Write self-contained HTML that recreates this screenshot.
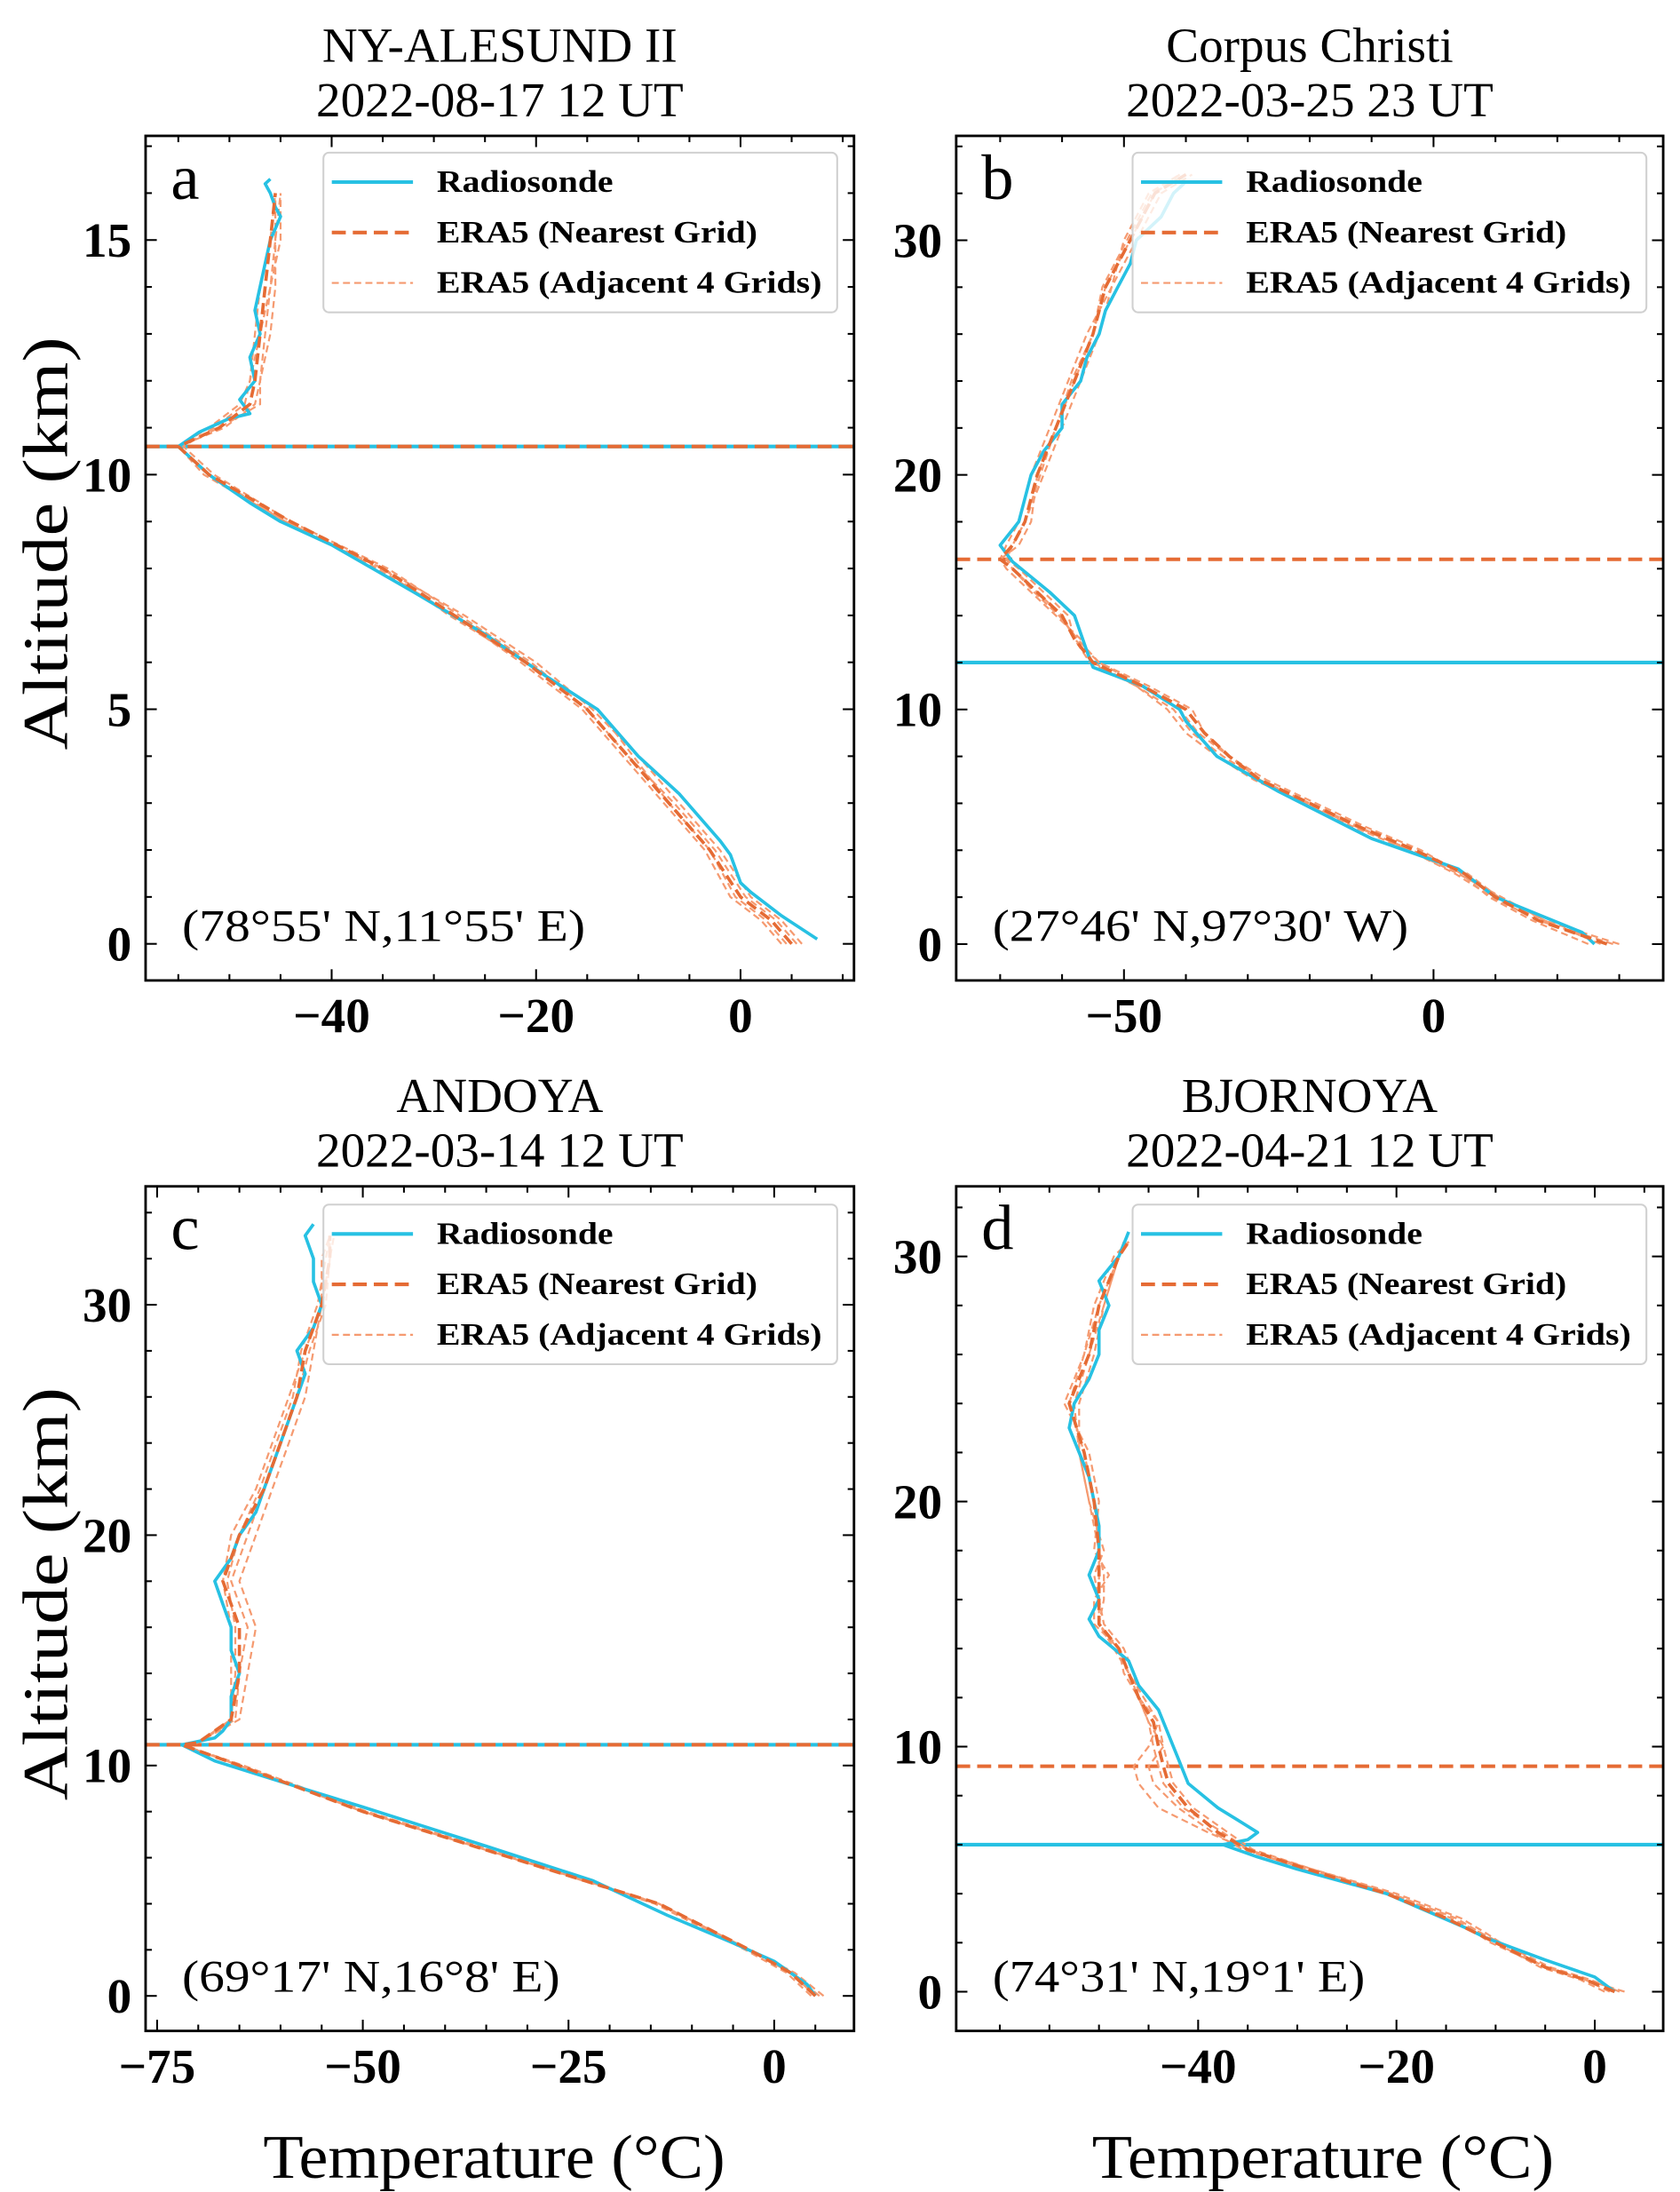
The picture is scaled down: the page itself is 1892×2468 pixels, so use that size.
<!DOCTYPE html>
<html><head><meta charset="utf-8"><style>
html,body{margin:0;padding:0;background:#fff;}
svg{display:block;}
text{font-family:"Liberation Serif",serif;fill:#000;}
</style></head><body>
<svg id="fig" width="1892" height="2468" viewBox="0 0 1200 1565" preserveAspectRatio="none" xmlns="http://www.w3.org/2000/svg"></svg>
<script>
// ---------- Panel a data ----------
const aRsAlt  = [0.1,0.6,1.1,1.3,1.9,2.2,3.2,4.0,5.0,5.7,6.6,7.5,8.5,9.0,9.4,10.0,10.6,10.9,11.2,11.3,11.6,12.0,12.5,13.0,13.5,14.5,15.0,15.5,15.7,16.0,16.2,16.3];
const aRsTemp = [7.5,4,1,0,-1,-2,-6,-10,-14,-19,-25,-32,-40,-45,-48,-52,-55,-53,-50,-48,-49,-47.5,-48,-47,-47.5,-46.5,-46,-45,-45.5,-46,-46.5,-46];
const aEraAlt  = [0,0.5,1,2,3,4,5,6,7,8,9,10,10.6,11,11.5,12,13,14,15,16];
const aNear = [5,3,0,-3,-7,-11,-15,-21,-28,-35,-44,-52,-55,-51,-48,-47.5,-47,-46.5,-46,-45.5];
const aAdj1 = [6,4,1,-2,-6,-10,-14.5,-20,-27,-35,-45,-52,-55,-52,-49,-48,-47.5,-47,-46,-45.5];
const aAdj2 = [4,2,-1,-3.5,-7.5,-11.5,-15.5,-21.5,-28,-35.5,-44.5,-52.5,-55,-51,-47,-47,-46.5,-46,-45.5,-45];
const aAdj3 = [5.5,3.5,0.5,-2.5,-6.5,-11,-15,-20.5,-27.5,-34.5,-44,-51.5,-54.5,-51.5,-48.5,-48,-47,-46,-45,-45];
const aAdj4 = [4.5,2.5,-0.5,-3,-7,-10.5,-14,-21,-28.5,-35,-44.5,-52,-55,-50.5,-47.5,-47,-46,-45.5,-45.5,-45.5];
const aTrop = [10.6, 10.6];
// ---------- Panel b data ----------
const bRsAlt  = [0,0.5,2,3.2,4.5,6.5,8,9.5,10,11,11.8,12.5,14,15,16.3,17,18,19,20,21,22,23,24,25,26,27,28,29,30,31,32,32.5];
const bRsTemp = [26,24,10,4,-10,-25,-35,-40,-41,-47,-55,-56,-58,-62,-68,-70,-67,-66,-65,-63,-60,-60,-57,-56,-54,-53,-51,-49,-48,-44,-42,-40];
const bEraAlt = [0,1,2,3,4,5,6,7,8,9,10,11,12,13,14,15,16,16.4,17,18,20,22,24,26,28,30,32,32.8];
const bNear = [28,17,10,5,-3,-12,-20,-28,-33,-37,-40,-47,-55,-58,-60,-64,-68,-70,-68,-66,-64,-61,-58,-55,-53,-49,-45,-40];
const bAdj1 = [30,18,11,4,-4,-13,-21,-28,-34,-39,-42,-48,-55,-57,-61,-65,-69,-70,-69,-67,-65,-62,-59,-56,-52,-50,-46,-41];
const bAdj2 = [25,16,9,4.5,-2,-11,-19,-27,-33,-38,-41,-47,-54,-58,-59,-63,-67,-69,-68,-66,-63,-60,-57,-54,-52,-48,-44,-39];
const bAdj3 = [27,18,10.5,5.5,-3.5,-12.5,-20.5,-29,-35,-40,-43,-48,-55.5,-58,-60,-64,-68,-70,-67,-65,-64,-61,-58,-55,-53,-49,-45,-41];
const bAdj4 = [29,17,9.5,3.5,-4,-12,-20,-28,-33,-37,-39,-46,-54,-57.5,-60.5,-64.5,-68,-69,-68,-66,-63.5,-61,-58.5,-55,-53.5,-49.5,-45.5,-40];
const bTropEra = [16.4];
const bTropRs = [12.0];
// ---------- Panel c data ----------
const cRsAlt  = [0,0.5,1.5,2.3,3.5,5,6.5,8.2,9.3,10.2,10.9,11.2,11.5,12,13,14,15,16,17,18,19,20,21,22,23,24,25,26,27,28,29,30,31,32,33,33.5];
const cRsTemp = [5,4,0,-5,-13,-22,-35,-50,-60,-68,-72,-68,-67,-66,-66,-65,-66,-66,-67,-68,-66,-65,-63,-62,-61,-60,-59,-58,-57,-58,-56,-55,-56,-56,-57,-56];
const cEraAlt = [0,1,2,4,6,8,10,10.9,11,12,14,16,18,20,22,24,26,28,30,32,33];
const cNear = [5,2,-3,-14,-32,-50,-65,-72,-70,-66,-65,-65,-67,-65,-62,-60,-58,-57,-55,-54,-54];
const cAdj1 = [6,2.5,-3,-14,-32,-50,-65,-72,-70,-65,-64,-63,-65,-63,-61,-59,-57,-56,-55,-54,-54];
const cAdj2 = [4.5,1.5,-3.5,-14.5,-32,-50,-65,-72,-70,-66,-66,-66,-67,-66,-63,-61,-59,-57,-55,-55,-54];
const cAdj3 = [5.5,2,-3,-14,-31.5,-49.5,-64.5,-72,-70,-65.5,-65,-64,-66,-64,-62,-60,-58,-56.5,-54.5,-54,-53.5];
const cAdj4 = [5,2,-3,-14,-32,-50,-65,-72,-70,-66,-65.5,-65.5,-66.5,-65,-62.5,-60.5,-58.5,-57.5,-55.5,-54.5,-54];
const cTrop = [10.9, 10.9];
// ---------- Panel d data ----------
const dRsAlt  = [0,0.6,1.3,2.2,2.6,4,5,5.5,6.0,6.2,6.5,7,7.5,8.5,9.5,10.5,11.5,12.5,13.5,14.5,15.2,16,17,18,19,20,21,22,23,24,25,26,27,28,29,30,31];
const dRsTemp = [2,0,-5,-11,-13,-21,-30,-34,-37.5,-35,-34,-36,-38,-41,-42,-43,-44,-46,-47,-50,-51,-50,-51,-50,-50,-50.5,-51,-52,-53,-52.5,-51,-50,-50,-49,-50,-48,-47];
const dEraAlt = [0,0.5,1,2,2.4,3,4,5,5.8,6.5,7.5,8.5,9.2,10,11,12,13,14,15,16,17,18,20,22,24,26,28,30,30.6];
const dNear = [2,-1,-5,-10,-12,-15,-21,-29,-35,-38,-41,-43,-43.5,-44,-44.5,-46,-47,-48,-50,-50,-50,-50,-50.5,-51.5,-53,-51,-50,-48,-47];
const dAdj1 = [3,-1,-5,-9.5,-11,-13.5,-20,-28.5,-35,-39,-44,-46,-46.5,-45,-44,-45.5,-47,-48.5,-50,-49.5,-49.5,-50,-51,-52,-52,-50.5,-49.5,-48,-47];
const dAdj2 = [1,-1.5,-5.5,-10,-11.5,-14.5,-20.5,-29,-35.5,-38.5,-42,-44.5,-45,-43.5,-44,-46,-47.5,-48,-50.5,-50.5,-49,-50.5,-50,-51,-53.5,-51.5,-50.5,-48.5,-47];
const dAdj3 = [2.5,-0.5,-4.5,-9.5,-11.5,-14,-20.5,-28.5,-34.5,-37,-40.5,-42.5,-43,-43.5,-45,-46,-46.5,-47.5,-49.5,-50,-50.5,-49.5,-51,-52,-52.5,-51,-49.5,-48,-47.5];
const dAdj4 = [1.5,-1,-5,-10.5,-12,-15,-21,-29.5,-35,-37.5,-41.5,-43.5,-44,-44.5,-45,-46,-47,-48,-50,-50,-50,-50,-50.5,-51.5,-53,-51.5,-50,-48,-47];
const dTropEra = [9.2];
const dTropRs = [6.0];
// ---------- tick labels ----------
const aXTicks=[-40,-20,0], aYTicks=[0,5,10,15];
const bXTicks=[-50,0], bYTicks=[0,10,20,30];
const cXTicks=[-75,-50,-25,0], cYTicks=[0,10,20,30];
const dXTicks=[-40,-20,0], dYTicks=[0,10,20,30];
const titles = [["NY-ALESUND II","2022-08-17 12 UT"],["Corpus Christi","2022-03-25 23 UT"],["ANDOYA","2022-03-14 12 UT"],["BJORNOYA","2022-04-21 12 UT"]];
const coords = ["(78°55' N,11°55' E)","(27°46' N,97°30' W)","(69°17' N,16°8' E)","(74°31' N,19°1' E)"];
const letters = ["a","b","c","d"];

const NS="http://www.w3.org/2000/svg";
const svg=document.getElementById('fig');
function mk(tag,attrs,parent){const e=document.createElementNS(NS,tag);for(const k in attrs)e.setAttribute(k,attrs[k]);(parent||svg).appendChild(e);return e;}
const CY="#27c1e3", OR="#e56b34", OL="#f59a70";

const panels=[
 {x0:104,x1:610,y0:97,y1:700,xmin:-58.2,xmax:11.1,ymin:-0.78,ymax:17.22,xt:aXTicks,yt:aYTicks,xminor:5,yminor:1,
  rs:[aRsAlt,aRsTemp],alt:aEraAlt,near:aNear,adj:[aAdj1,aAdj2,aAdj3,aAdj4],tEra:aTrop[0],tRs:aTrop[1],legX:231,legY:109},
 {x0:683,x1:1188,y0:97,y1:700,xmin:-77.1,xmax:37.1,ymin:-1.55,ymax:34.45,xt:bXTicks,yt:bYTicks,xminor:10,yminor:2,
  rs:[bRsAlt,bRsTemp],alt:bEraAlt,near:bNear,adj:[bAdj1,bAdj2,bAdj3,bAdj4],tEra:bTropEra[0],tRs:bTropRs[0],legX:809,legY:109},
 {x0:104,x1:610,y0:847,y1:1450,xmin:-76.4,xmax:9.7,ymin:-1.52,ymax:35.14,xt:cXTicks,yt:cYTicks,xminor:5,yminor:2,
  rs:[cRsAlt,cRsTemp],alt:cEraAlt,near:cNear,adj:[cAdj1,cAdj2,cAdj3,cAdj4],tEra:cTrop[0],tRs:cTrop[1],legX:231,legY:860},
 {x0:683,x1:1188,y0:847,y1:1450,xmin:-64.4,xmax:6.9,ymin:-1.6,ymax:32.86,xt:dXTicks,yt:dYTicks,xminor:5,yminor:2,
  rs:[dRsAlt,dRsTemp],alt:dEraAlt,near:dNear,adj:[dAdj1,dAdj2,dAdj3,dAdj4],tEra:dTropEra[0],tRs:dTropRs[0],legX:809,legY:860}
];

panels.forEach((p,i)=>{
  const g=mk('g',{});
  
  
  const sx=v=>p.x0+(v-p.xmin)/(p.xmax-p.xmin)*(p.x1-p.x0);
  const sy=v=>p.y1-(v-p.ymin)/(p.ymax-p.ymin)*(p.y1-p.y0);
  const cx=(p.x0+p.x1)/2;
  const t1=mk('text',{x:cx,y:p.y0-53,'text-anchor':'middle','font-size':35},g);t1.textContent=titles[i][0];
  
  
  const t2=mk('text',{x:cx,y:p.y0-14,'text-anchor':'middle','font-size':35},g);t2.textContent=titles[i][1];
  
  
  const clip=mk('clipPath',{id:'clip'+i},g);mk('rect',{x:p.x0,y:p.y0,width:p.x1-p.x0,height:p.y1-p.y0},clip);
  const plot=mk('g',{'clip-path':'url(#clip'+i+')'},g);
  const hr=mk('line',{x1:p.x0,x2:p.x1,y1:sy(p.tRs),y2:sy(p.tRs),stroke:CY,'stroke-width':2.6},plot);
  
  
  const he=mk('line',{x1:p.x0,x2:p.x1,y1:sy(p.tEra),y2:sy(p.tEra),stroke:OR,'stroke-width':2.6,'stroke-dasharray':'10,5'},plot);
  
  
  const path=(alts,temps)=>alts.map((a,k)=>(k?'L':'M')+sx(temps[k]).toFixed(1)+','+sy(a).toFixed(1)).join('');
  p.adj.forEach((ad,k)=>{
    const l=mk('path',{d:path(p.alt,ad),fill:'none',stroke:OL,'stroke-width':1.4,'stroke-dasharray':'5,3'},plot);
    
    
  });
  const rl=mk('path',{d:path(p.rs[0],p.rs[1]),fill:'none',stroke:CY,'stroke-width':2.3,'stroke-linejoin':'round'},plot);
  
  
  const nl=mk('path',{d:path(p.alt,p.near),fill:'none',stroke:OR,'stroke-width':2.3,'stroke-dasharray':'8,4'},plot);
  
  
  const fr=mk('rect',{x:p.x0,y:p.y0,width:p.x1-p.x0,height:p.y1-p.y0,fill:'none',stroke:'#000','stroke-width':1.8},g);
  
  
  const tk=mk('g',{stroke:'#000','stroke-width':1.3},g);
  for(let v=Math.ceil(p.xmin/p.xminor)*p.xminor;v<=p.xmax;v+=p.xminor){
    const maj=p.xt.includes(v), L=maj?8:4.5, X=sx(v);
    mk('line',{x1:X,x2:X,y1:p.y1,y2:p.y1-L},tk);mk('line',{x1:X,x2:X,y1:p.y0,y2:p.y0+L},tk);
  }
  for(let v=Math.ceil(p.ymin/p.yminor)*p.yminor;v<=p.ymax;v+=p.yminor){
    const maj=p.yt.includes(v), L=maj?8:4.5, Y=sy(v);
    mk('line',{y1:Y,y2:Y,x1:p.x0,x2:p.x0+L},tk);mk('line',{y1:Y,y2:Y,x1:p.x1,x2:p.x1-L},tk);
  }
  p.xt.forEach(v=>{const t=mk('text',{x:sx(v),y:p.y1+37,'text-anchor':'middle','font-size':35,'font-weight':'bold'},g);t.textContent=v<0?'\u2212'+(-v):v;
    
    });
  p.yt.forEach(v=>{const t=mk('text',{x:p.x0-10,y:sy(v)+12,'text-anchor':'end','font-size':35,'font-weight':'bold'},g);t.textContent=v;
    
    });
  const lt=mk('text',{x:p.x0+18,y:p.y0+45,'font-size':46},g);lt.textContent=letters[i];
  
  
  const coLen=[288,297,270,266][i];
  const co=mk('text',{x:p.x0+26,y:p.y1-28,'font-size':32,textLength:coLen,lengthAdjust:'spacingAndGlyphs'},g);co.textContent=coords[i];
  
  
  const lg=mk('g',{},g);
  
  
  mk('rect',{x:p.legX,y:p.legY,width:367,height:114,rx:4,fill:'#fff','fill-opacity':0.8,stroke:'#d0d0d0','stroke-width':1.3},lg);
  const ent=[["Radiosonde",CY,2.6,'',126],["ERA5 (Nearest Grid)",OR,2.6,'10,5',229],["ERA5 (Adjacent 4 Grids)",OL,1.4,'5,3',275]];
  ent.forEach((e,k)=>{
    const yy=p.legY+21+k*36;
    const ln=mk('line',{x1:p.legX+6,x2:p.legX+64,y1:yy,y2:yy,stroke:e[1],'stroke-width':e[2],'stroke-dasharray':e[3]||'none'},lg);
    
    
    const tx=mk('text',{x:p.legX+81,y:yy+7,'font-size':22,'font-weight':'bold',textLength:e[4],lengthAdjust:'spacingAndGlyphs'},lg);tx.textContent=e[0];
    
    
  });
});
[[388],[1138]].forEach((c,k)=>{
  const t=mk('text',{x:48,y:c[0],'text-anchor':'middle','font-size':46,textLength:295,lengthAdjust:'spacingAndGlyphs',transform:'rotate(-90 48 '+c[0]+')'});
  t.textContent='Altitude (km)';
  
  
});
[353,945].forEach(x=>{
  const t=mk('text',{x:x,y:1555,'text-anchor':'middle','font-size':44,textLength:330,lengthAdjust:'spacingAndGlyphs'});
  t.textContent='Temperature (°C)';
  
  
});
</script>
</body></html>
